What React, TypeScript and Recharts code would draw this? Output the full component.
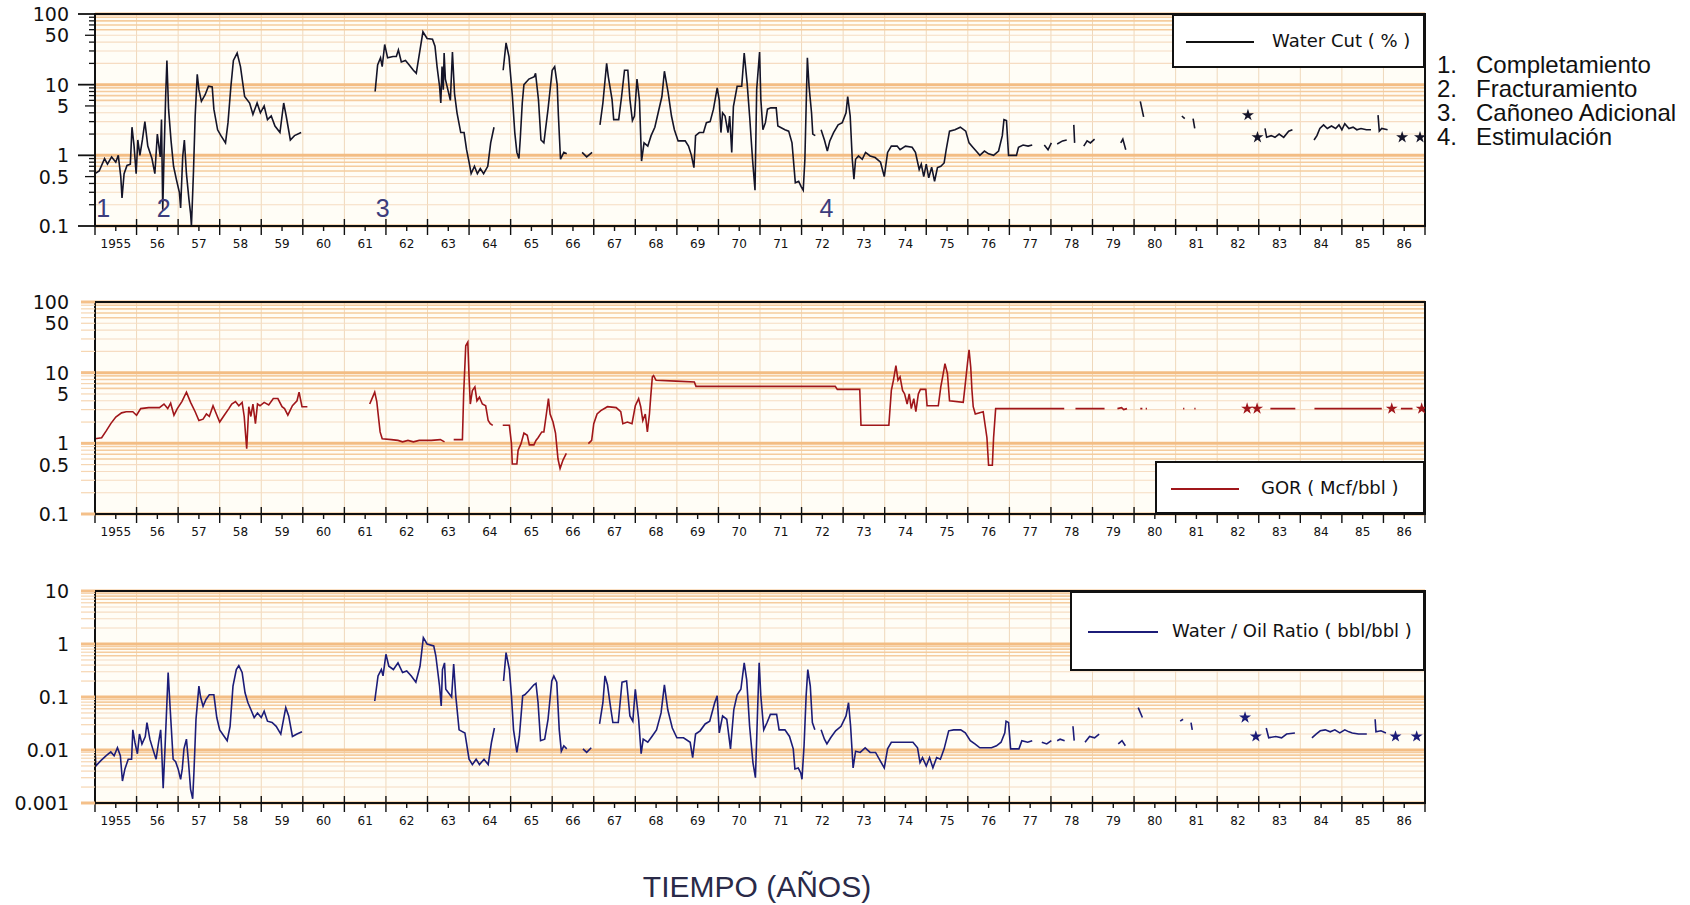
import React from 'react'
import { ComposedChart, Line, Scatter, XAxis, YAxis, ZAxis, CartesianGrid, ReferenceArea, ReferenceDot } from 'recharts'

type Pt = [number, number | null]

// x axis: one label per year, placed mid-year
const yearLabels = ['1955', '56', '57', '58', '59', '60', '61', '62', '63', '64', '65', '66', '67', '68', '69', '70',
  '71', '72', '73', '74', '75', '76', '77', '78', '79', '80', '81', '82', '83', '84', '85', '86']

// Water Cut (%)  [year, value]
const waterCut: Pt[] = [
  [1955.0, 0.55], [1955.1, 0.6], [1955.23, 0.9], [1955.3, 0.75], [1955.4, 0.95], [1955.5, 0.8], [1955.56, 1.0], [1955.62, 0.5],
  [1955.65, 0.25], [1955.7, 0.55], [1955.77, 0.72], [1955.85, 0.75], [1955.89, 2.5], [1955.94, 1.35], [1955.99, 0.55], [1956.03, 1.65],
  [1956.08, 1.0], [1956.14, 1.65], [1956.2, 3.0], [1956.27, 1.35], [1956.37, 0.9], [1956.44, 0.55], [1956.5, 2.0], [1956.57, 0.95],
  [1956.6, 3.2], [1956.63, 0.17], [1956.66, 0.95], [1956.7, 6.8], [1956.73, 22], [1956.77, 4.5], [1956.83, 1.6], [1956.89, 0.7],
  [1956.96, 0.45], [1957.03, 0.3], [1957.06, 0.18], [1957.11, 0.95], [1957.15, 1.65], [1957.2, 0.55], [1957.26, 0.24], [1957.3, 0.15],
  [1957.32, 0.1], [1957.34, 0.2], [1957.37, 0.6], [1957.41, 3.6], [1957.46, 14], [1957.5, 8.5], [1957.56, 5.8], [1957.65, 7.2],
  [1957.73, 9.5], [1957.82, 9.3], [1957.86, 4.5], [1957.95, 2.3], [1958.03, 1.9], [1958.14, 1.5], [1958.2, 2.9], [1958.27, 9.5],
  [1958.33, 22], [1958.42, 28], [1958.5, 18], [1958.6, 6.8], [1958.72, 5.5], [1958.8, 3.8], [1958.9, 5.5], [1958.98, 4.0],
  [1959.07, 5], [1959.15, 3.2], [1959.24, 3.6], [1959.33, 2.6], [1959.45, 2.1], [1959.54, 5.5], [1959.6, 3.6], [1959.7, 1.65],
  [1959.8, 1.9], [1959.96, 2.1], [1960.0, null],
  [1961.74, 8.0], [1961.8, 19], [1961.87, 24], [1961.91, 18], [1961.97, 37], [1962.04, 24], [1962.17, 25], [1962.25, 25],
  [1962.3, 31], [1962.37, 21], [1962.47, 22], [1962.56, 19], [1962.66, 16], [1962.73, 14.5], [1962.82, 31], [1962.89, 56],
  [1962.99, 45], [1963.12, 44], [1963.18, 35], [1963.23, 18], [1963.29, 9.5], [1963.32, 5.5], [1963.35, 18], [1963.38, 8.5],
  [1963.4, 28], [1963.43, 12], [1963.55, 6], [1963.6, 29], [1963.65, 7.5], [1963.71, 4], [1963.8, 2.1], [1963.88, 2.1],
  [1963.94, 1.2], [1964.0, 0.8], [1964.05, 0.55], [1964.13, 0.7], [1964.2, 0.55], [1964.27, 0.65], [1964.35, 0.55], [1964.45, 0.7],
  [1964.52, 1.5], [1964.6, 2.5], [1964.7, null],
  [1964.82, 16], [1964.89, 39], [1964.96, 25], [1965.04, 7.2], [1965.1, 2.1], [1965.15, 1.1], [1965.2, 0.9], [1965.23, 1.65],
  [1965.28, 5.5], [1965.32, 10], [1965.44, 12], [1965.57, 13], [1965.6, 14.5], [1965.67, 6.1], [1965.73, 1.65], [1965.8, 1.5],
  [1965.9, 4.5], [1966.0, 16], [1966.06, 18], [1966.12, 10], [1966.15, 3.6], [1966.2, 0.88], [1966.28, 1.1], [1966.35, 1.05],
  [1966.4, null],
  [1966.72, 1.1], [1966.83, 0.95], [1966.96, 1.1], [1967.0, null],
  [1967.15, 2.7], [1967.22, 5.5], [1967.31, 20], [1967.35, 13], [1967.44, 6.2], [1967.48, 3.2], [1967.6, 3.2], [1967.67, 6.8],
  [1967.74, 16], [1967.82, 16], [1967.87, 6.2], [1967.93, 3.1], [1967.98, 3.6], [1968.04, 12], [1968.1, 6], [1968.15, 0.83],
  [1968.21, 1.5], [1968.3, 1.35], [1968.38, 1.9], [1968.47, 2.5], [1968.55, 4.0], [1968.64, 6.8], [1968.7, 15.5], [1968.79, 7.7],
  [1968.87, 3.6], [1968.94, 2.3], [1969.03, 1.6], [1969.2, 1.6], [1969.28, 1.35], [1969.35, 1.0], [1969.41, 0.67], [1969.45, 1.9],
  [1969.54, 2.1], [1969.64, 2.1], [1969.71, 2.9], [1969.8, 3.0], [1969.88, 4.5], [1969.97, 9], [1970.02, 6], [1970.06, 2.1],
  [1970.1, 4], [1970.16, 3.6], [1970.23, 2.1], [1970.27, 3.6], [1970.32, 1.1], [1970.36, 4.9], [1970.45, 9.5], [1970.56, 9.5],
  [1970.62, 28], [1970.69, 10.5], [1970.75, 3.6], [1970.82, 0.88], [1970.88, 0.32], [1970.92, 8.5], [1970.99, 29], [1971.02, 6.2],
  [1971.07, 2.3], [1971.13, 2.9], [1971.18, 4.5], [1971.26, 4.7], [1971.39, 4.7], [1971.43, 2.6], [1971.6, 2.3], [1971.69, 2.2],
  [1971.77, 1.5], [1971.85, 0.41], [1971.93, 0.43], [1971.99, 0.36], [1972.04, 0.32], [1972.08, 0.88], [1972.12, 8.5], [1972.14, 24],
  [1972.18, 9.5], [1972.24, 4], [1972.27, 2.0], [1972.33, 1.9], [1972.4, null],
  [1972.47, 2.3], [1972.55, 1.65], [1972.62, 1.15], [1972.68, 1.6], [1972.77, 2.1], [1972.88, 2.7], [1972.98, 2.9], [1973.07, 4],
  [1973.11, 6.8], [1973.17, 3.6], [1973.22, 0.88], [1973.26, 0.46], [1973.3, 0.88], [1973.37, 0.98], [1973.46, 0.88], [1973.54, 1.1],
  [1973.65, 0.98], [1973.77, 0.93], [1973.9, 0.8], [1973.99, 0.5], [1974.07, 1.1], [1974.16, 1.35], [1974.3, 1.35], [1974.37, 1.2],
  [1974.5, 1.35], [1974.66, 1.3], [1974.74, 1.1], [1974.83, 0.63], [1974.88, 0.75], [1974.94, 0.5], [1975.0, 0.75], [1975.06, 0.48],
  [1975.13, 0.68], [1975.2, 0.43], [1975.27, 0.67], [1975.35, 0.7], [1975.43, 0.78], [1975.48, 1.2], [1975.56, 2.2], [1975.69, 2.3],
  [1975.82, 2.5], [1975.95, 2.2], [1976.03, 1.5], [1976.12, 1.3], [1976.2, 1.15], [1976.29, 1.0], [1976.4, 1.15], [1976.5, 1.05],
  [1976.62, 1.0], [1976.74, 1.15], [1976.83, 1.9], [1976.87, 3.2], [1976.93, 3.1], [1976.98, 1.0], [1977.17, 1.0], [1977.22, 1.3],
  [1977.33, 1.4], [1977.45, 1.35], [1977.55, 1.4], [1977.62, null],
  [1977.84, 1.4], [1977.93, 1.2], [1978.01, 1.5], [1978.06, null],
  [1978.15, 1.45], [1978.28, 1.6], [1978.38, 1.65], [1978.45, null],
  [1978.55, 2.7], [1978.57, 1.5], [1978.62, null],
  [1978.79, 1.35], [1978.87, 1.6], [1978.95, 1.5], [1979.05, 1.7], [1979.12, null],
  [1979.68, 1.5], [1979.73, 1.7], [1979.8, 1.2], [1979.85, null],
  [1980.15, 5.8], [1980.23, 3.5], [1980.28, null],
  [1981.15, 3.6], [1981.22, 3.3], [1981.27, null],
  [1981.42, 3.3], [1981.46, 2.4], [1981.5, null],
  [1983.15, 2.4], [1983.19, 1.8], [1983.3, 1.9], [1983.39, 1.8], [1983.49, 2.0], [1983.6, 1.8], [1983.72, 2.2], [1983.81, 2.3],
  [1983.88, null],
  [1984.33, 1.65], [1984.4, 1.9], [1984.47, 2.4], [1984.56, 2.7], [1984.65, 2.4], [1984.75, 2.6], [1984.85, 2.4], [1984.93, 2.7],
  [1985.0, 2.3], [1985.07, 2.8], [1985.17, 2.4], [1985.27, 2.5], [1985.36, 2.3], [1985.46, 2.4], [1985.59, 2.3], [1985.7, 2.3],
  [1985.75, null],
  [1985.87, 3.7], [1985.9, 2.2], [1985.96, 2.4], [1986.1, 2.3], [1986.15, null],
]
const waterCutStars: Pt[] = [[1982.74, 3.7], [1982.97, 1.8], [1986.45, 1.8], [1986.88, 1.8]]

// GOR (Mcf/bbl)
const gor: Pt[] = [
  [1955.0, 1.16], [1955.16, 1.2], [1955.27, 1.5], [1955.38, 1.9], [1955.5, 2.35], [1955.64, 2.7], [1955.75, 2.8], [1955.91, 2.8],
  [1956.0, 2.5], [1956.1, 3.1], [1956.29, 3.2], [1956.55, 3.2], [1956.66, 3.6], [1956.75, 3.1], [1956.82, 3.7], [1956.9, 2.5],
  [1956.98, 3.1], [1957.09, 3.9], [1957.2, 5.3], [1957.3, 3.8], [1957.41, 2.8], [1957.5, 2.1], [1957.6, 2.2], [1957.68, 2.6],
  [1957.75, 2.4], [1957.84, 3.4], [1957.92, 2.6], [1958.0, 2.0], [1958.11, 2.5], [1958.22, 3.1], [1958.29, 3.6], [1958.38, 3.9],
  [1958.46, 3.4], [1958.54, 3.8], [1958.59, 2.4], [1958.62, 1.4], [1958.65, 0.84], [1958.7, 3.3], [1958.75, 2.4], [1958.8, 3.6],
  [1958.86, 1.9], [1958.91, 3.6], [1958.97, 3.4], [1959.07, 3.8], [1959.18, 3.5], [1959.29, 4.3], [1959.4, 4.3], [1959.5, 3.3],
  [1959.56, 3.1], [1959.64, 2.5], [1959.75, 3.4], [1959.86, 4.0], [1959.91, 5.3], [1959.98, 3.3], [1960.11, 3.3], [1960.15, null],
  [1961.61, 3.6], [1961.68, 4.5], [1961.73, 5.3], [1961.78, 3.9], [1961.83, 2.1], [1961.86, 1.45], [1961.91, 1.16], [1962.13, 1.13],
  [1962.29, 1.1], [1962.4, 1.05], [1962.53, 1.1], [1962.66, 1.05], [1962.8, 1.1], [1963.09, 1.1], [1963.31, 1.13], [1963.41, 1.05],
  [1963.5, null],
  [1963.63, 1.13], [1963.84, 1.13], [1963.87, 5.0], [1963.92, 24], [1963.97, 27], [1964.0, 8.7], [1964.03, 3.6], [1964.08, 5.6],
  [1964.14, 6.3], [1964.19, 4.0], [1964.25, 4.5], [1964.32, 3.6], [1964.4, 3.4], [1964.46, 2.1], [1964.51, 1.9], [1964.57, 1.8],
  [1964.65, null],
  [1964.81, 1.8], [1964.97, 1.8], [1965.02, 0.99], [1965.04, 0.51], [1965.15, 0.51], [1965.18, 0.8], [1965.25, 0.99], [1965.32, 1.4],
  [1965.4, 1.3], [1965.45, 0.95], [1965.56, 0.95], [1965.61, 1.1], [1965.66, 1.2], [1965.75, 1.45], [1965.8, 1.45], [1965.86, 2.6],
  [1965.91, 4.3], [1965.95, 2.6], [1966.02, 2.0], [1966.08, 1.4], [1966.14, 0.6], [1966.19, 0.44], [1966.26, 0.58], [1966.34, 0.72],
  [1966.4, null],
  [1966.87, 0.99], [1966.95, 1.1], [1967.0, 1.9], [1967.08, 2.6], [1967.17, 2.9], [1967.33, 3.3], [1967.54, 3.2], [1967.65, 2.8],
  [1967.7, 1.9], [1967.81, 2.0], [1967.92, 1.9], [1968.0, 3.4], [1968.08, 4.3], [1968.13, 3.3], [1968.18, 2.1], [1968.24, 2.6],
  [1968.29, 1.45], [1968.34, 2.6], [1968.37, 4.5], [1968.41, 8.7], [1968.44, 9.1], [1968.5, 7.8], [1968.98, 7.6], [1969.42, 7.4],
  [1969.46, 6.4], [1972.81, 6.4], [1972.86, 5.8], [1973.4, 5.8], [1973.43, 1.8], [1974.1, 1.8], [1974.16, 5.6], [1974.21, 7.8],
  [1974.27, 12.6], [1974.32, 7.8], [1974.37, 8.7], [1974.43, 5.6], [1974.48, 5.0], [1974.54, 3.6], [1974.59, 5.0], [1974.64, 3.1],
  [1974.7, 4.3], [1974.75, 2.8], [1974.81, 5.0], [1974.86, 5.8], [1974.99, 5.8], [1975.02, 3.4], [1975.29, 3.4], [1975.35, 6.3],
  [1975.4, 9.1], [1975.45, 13.4], [1975.51, 9.7], [1975.56, 4.0], [1975.89, 3.8], [1975.94, 7.0], [1976.0, 15], [1976.03, 21],
  [1976.07, 12], [1976.1, 5.6], [1976.13, 3.3], [1976.18, 2.6], [1976.37, 2.8], [1976.46, 1.2], [1976.5, 0.49], [1976.59, 0.49],
  [1976.62, 1.2], [1976.67, 3.1], [1978.32, 3.1], [1978.4, null],
  [1978.59, 3.1], [1979.29, 3.1], [1979.35, null],
  [1979.6, 3.1], [1979.7, 3.2], [1979.75, 3.0], [1979.83, 3.1], [1979.88, null],
  [1980.15, 3.1], [1980.2, 3.1], [1980.24, null],
  [1980.28, 3.1], [1980.31, 3.1], [1980.34, null],
  [1981.18, 3.1], [1981.21, 3.1], [1981.24, null],
  [1981.45, 3.1], [1981.48, 3.1], [1981.52, null],
  [1983.28, 3.1], [1983.88, 3.1], [1983.95, null],
  [1984.34, 3.1], [1985.96, 3.1], [1986.05, null],
  [1986.42, 3.1], [1986.7, 3.1], [1986.75, null],
]
const gorStars: Pt[] = [[1982.72, 3.1], [1982.96, 3.1], [1986.2, 3.1], [1986.92, 3.1]]

// Water / Oil Ratio (bbl/bbl)
const wor: Pt[] = [
  [1955.0, 0.0105], [1955.02, 0.005], [1955.14, 0.0063], [1955.27, 0.0078], [1955.38, 0.0092], [1955.46, 0.0078], [1955.54, 0.011],
  [1955.61, 0.0078], [1955.66, 0.0026], [1955.72, 0.0044], [1955.8, 0.0067], [1955.88, 0.0067], [1955.91, 0.024], [1955.96, 0.014],
  [1956.02, 0.0085], [1956.07, 0.02], [1956.13, 0.013], [1956.21, 0.018], [1956.25, 0.033], [1956.32, 0.016], [1956.39, 0.0105],
  [1956.47, 0.0067], [1956.53, 0.014], [1956.58, 0.024], [1956.61, 0.0078], [1956.64, 0.0019], [1956.68, 0.009], [1956.73, 0.078],
  [1956.76, 0.29], [1956.81, 0.058], [1956.88, 0.0067], [1956.94, 0.006], [1957.0, 0.0044], [1957.06, 0.0028], [1957.1, 0.0044],
  [1957.14, 0.0105], [1957.2, 0.016], [1957.25, 0.0058], [1957.3, 0.0018], [1957.35, 0.0012], [1957.38, 0.0037], [1957.43, 0.038],
  [1957.5, 0.16], [1957.54, 0.1], [1957.6, 0.067], [1957.67, 0.09], [1957.75, 0.11], [1957.86, 0.11], [1957.93, 0.041], [1958.0, 0.024],
  [1958.11, 0.018], [1958.18, 0.015], [1958.25, 0.028], [1958.32, 0.16], [1958.4, 0.33], [1958.46, 0.39], [1958.54, 0.29],
  [1958.61, 0.12], [1958.68, 0.078], [1958.75, 0.058], [1958.83, 0.041], [1958.91, 0.05], [1959.0, 0.041], [1959.07, 0.054],
  [1959.15, 0.035], [1959.26, 0.033], [1959.36, 0.028], [1959.47, 0.02], [1959.59, 0.063], [1959.66, 0.044], [1959.75, 0.018],
  [1959.86, 0.02], [1959.98, 0.022], [1960.05, null],
  [1961.73, 0.084], [1961.81, 0.25], [1961.89, 0.33], [1961.93, 0.25], [1962.0, 0.64], [1962.07, 0.38], [1962.18, 0.33], [1962.29, 0.44],
  [1962.4, 0.29], [1962.5, 0.31], [1962.61, 0.25], [1962.72, 0.19], [1962.82, 0.38], [1962.9, 1.32], [1962.99, 1.0], [1963.15, 0.92],
  [1963.2, 0.6], [1963.29, 0.16], [1963.33, 0.068], [1963.36, 0.33], [1963.41, 0.44], [1963.44, 0.14], [1963.58, 0.1], [1963.63, 0.42],
  [1963.68, 0.105], [1963.76, 0.024], [1963.9, 0.021], [1964.0, 0.0067], [1964.08, 0.0053], [1964.17, 0.0067], [1964.25, 0.0053],
  [1964.36, 0.0067], [1964.46, 0.0053], [1964.54, 0.014], [1964.61, 0.026], [1964.7, null],
  [1964.83, 0.2], [1964.89, 0.69], [1964.97, 0.33], [1965.02, 0.105], [1965.07, 0.024], [1965.15, 0.009], [1965.21, 0.018],
  [1965.29, 0.105], [1965.34, 0.11], [1965.43, 0.13], [1965.56, 0.17], [1965.61, 0.18], [1965.66, 0.078], [1965.72, 0.015],
  [1965.82, 0.016], [1965.9, 0.038], [1965.99, 0.2], [1966.04, 0.25], [1966.11, 0.19], [1966.17, 0.024], [1966.22, 0.0095],
  [1966.28, 0.012], [1966.35, 0.0105], [1966.4, null],
  [1966.74, 0.0105], [1966.83, 0.009], [1966.94, 0.011], [1967.0, null],
  [1967.14, 0.031], [1967.22, 0.078], [1967.27, 0.25], [1967.33, 0.17], [1967.4, 0.068], [1967.46, 0.033], [1967.59, 0.033],
  [1967.68, 0.19], [1967.79, 0.2], [1967.87, 0.044], [1967.94, 0.035], [1968.0, 0.14], [1968.08, 0.038], [1968.14, 0.0085],
  [1968.19, 0.016], [1968.3, 0.014], [1968.4, 0.018], [1968.51, 0.024], [1968.62, 0.05], [1968.7, 0.17], [1968.78, 0.058],
  [1968.89, 0.026], [1969.0, 0.017], [1969.16, 0.017], [1969.32, 0.014], [1969.38, 0.0072], [1969.45, 0.02], [1969.56, 0.023],
  [1969.68, 0.031], [1969.79, 0.035], [1969.91, 0.078], [1969.97, 0.105], [1970.02, 0.021], [1970.1, 0.044], [1970.2, 0.038],
  [1970.29, 0.0105], [1970.37, 0.058], [1970.45, 0.11], [1970.54, 0.14], [1970.62, 0.44], [1970.68, 0.21], [1970.75, 0.028],
  [1970.83, 0.0058], [1970.89, 0.003], [1970.94, 0.05], [1970.98, 0.44], [1971.02, 0.105], [1971.09, 0.024], [1971.17, 0.033],
  [1971.25, 0.047], [1971.4, 0.047], [1971.46, 0.024], [1971.6, 0.024], [1971.71, 0.018], [1971.8, 0.0105], [1971.84, 0.0044],
  [1971.92, 0.0046], [1971.98, 0.0037], [1972.01, 0.0028], [1972.06, 0.012], [1972.11, 0.105], [1972.15, 0.33], [1972.21, 0.16],
  [1972.26, 0.033], [1972.32, 0.024], [1972.4, null],
  [1972.47, 0.024], [1972.55, 0.016], [1972.61, 0.013], [1972.7, 0.017], [1972.82, 0.023], [1972.95, 0.028], [1973.07, 0.044],
  [1973.13, 0.078], [1973.18, 0.028], [1973.24, 0.0046], [1973.3, 0.0095], [1973.41, 0.009], [1973.53, 0.011], [1973.65, 0.009],
  [1973.78, 0.009], [1973.88, 0.0065], [1973.99, 0.0046], [1974.07, 0.0105], [1974.16, 0.014], [1974.33, 0.014], [1974.5, 0.014],
  [1974.68, 0.014], [1974.79, 0.011], [1974.85, 0.0058], [1974.91, 0.0072], [1975.0, 0.005], [1975.08, 0.0072], [1975.16, 0.0046],
  [1975.25, 0.0072], [1975.34, 0.0067], [1975.43, 0.0105], [1975.54, 0.023], [1975.66, 0.024], [1975.83, 0.024], [1975.94, 0.021],
  [1976.06, 0.015], [1976.17, 0.013], [1976.29, 0.011], [1976.42, 0.011], [1976.57, 0.011], [1976.69, 0.012], [1976.8, 0.014],
  [1976.89, 0.021], [1976.92, 0.035], [1976.98, 0.033], [1977.03, 0.0105], [1977.23, 0.0105], [1977.3, 0.015], [1977.44, 0.014],
  [1977.55, 0.015], [1977.62, null],
  [1977.78, 0.014], [1977.9, 0.013], [1978.01, 0.015], [1978.06, null],
  [1978.15, 0.015], [1978.22, 0.016], [1978.33, 0.015], [1978.4, null],
  [1978.53, 0.028], [1978.56, 0.015], [1978.62, null],
  [1978.82, 0.014], [1978.93, 0.018], [1979.05, 0.017], [1979.16, 0.02], [1979.22, null],
  [1979.62, 0.013], [1979.71, 0.015], [1979.79, 0.012], [1979.85, null],
  [1980.1, 0.063], [1980.2, 0.041], [1980.26, null],
  [1981.11, 0.035], [1981.18, 0.038], [1981.24, null],
  [1981.37, 0.033], [1981.4, 0.024], [1981.45, null],
  [1983.18, 0.026], [1983.24, 0.017], [1983.41, 0.018], [1983.55, 0.017], [1983.67, 0.02], [1983.87, 0.021], [1983.93, null],
  [1984.28, 0.017], [1984.38, 0.02], [1984.48, 0.023], [1984.6, 0.024], [1984.72, 0.022], [1984.83, 0.024], [1984.95, 0.021],
  [1985.07, 0.024], [1985.17, 0.022], [1985.25, 0.021], [1985.4, 0.02], [1985.6, 0.02], [1985.67, null],
  [1985.8, 0.038], [1985.82, 0.022], [1985.94, 0.023], [1986.06, 0.021], [1986.12, null],
]
const worStars: Pt[] = [[1982.67, 0.041], [1982.93, 0.018], [1986.29, 0.018], [1986.8, 0.018]]

// well events marked on the water cut panel
const events = [
  { t: 1955.2, v: 0.18, text: '1' },
  { t: 1956.65, v: 0.18, text: '2' },
  { t: 1961.92, v: 0.18, text: '3' },
  { t: 1972.6, v: 0.18, text: '4' },
]
const eventNotes = ['Completamiento', 'Fracturamiento', 'Cañoneo Adicional', 'Estimulación']

const yearStarts = yearLabels.map((_, i) => 1955 + i).concat([1987])
const xTicks = yearStarts.concat(yearLabels.map((_, i) => 1955.5 + i)).sort((a, b) => a - b)
const mantissas = [1, 2, 3, 4, 5, 6, 7, 8, 9]

const toPoints = (arr: Pt[]) => arr.map(([t, v]) => ({ t, v }))

const TICK_FONT = 'DejaVu Sans, Verdana, sans-serif'

const XTick = (props: any) => {
  const { x, y, payload } = props
  const v = payload.value
  if (Math.abs(v - Math.round(v)) < 0.01) {
    return <line x1={x} x2={x} y1={y - 7} y2={y + 9} stroke="#111" strokeWidth={1.4} />
  }
  const label = yearLabels[Math.floor(v) - 1955]
  return (
    <g>
      <line x1={x} x2={x} y1={y} y2={y + 5} stroke="#111" strokeWidth={1.4} />
      <text x={x} y={y + 18} textAnchor="middle" dominantBaseline="central" fontSize={12} fill="#111" fontFamily={TICK_FONT}>{label}</text>
    </g>
  )
}

const makeYTick = (labels: number[], orange: boolean) => (props: any) => {
  const { x, y, payload } = props
  const v = payload.value
  const mant = Math.round(v / Math.pow(10, Math.floor(Math.log10(v) + 1e-9)))
  const lab = labels.find((l) => Math.abs(v - l) / l < 1e-6)
  const len = orange ? 14 : mant === 1 ? 17 : mant === 5 ? 10 : 6
  return (
    <g>
      <line x1={x - len} x2={x} y1={y} y2={y}
        stroke={orange ? (mant === 1 ? '#f4c08a' : '#f6d6b2') : '#111'}
        strokeWidth={orange ? (mant === 1 ? 3 : 1.2) : mant === 1 ? 1.8 : 1.3} />
      {lab !== undefined && (
        <text x={x - 26} y={y} textAnchor="end" dominantBaseline="central" fontSize={19} fill="#111" fontFamily={TICK_FONT}>
          {String(lab)}
        </text>
      )}
    </g>
  )
}

type PanelProps = {
  top: number
  series: Pt[]
  stars: Pt[]
  color: string
  domain: [number, number]
  labels: number[]
  decades: number[]
  orangeTicks: boolean
  notes?: { t: number; v: number; text: string }[]
}

const Panel = ({ top, series, stars, color, domain, labels, decades, orangeTicks, notes }: PanelProps) => {
  const allTicks = decades.flatMap((d) => mantissas.map((m) => +(m * d).toPrecision(6))).concat([domain[1]])
  const decadeLines = decades.concat([domain[1]])
  const upperLines = decades.flatMap((d) => [6, 7, 8, 9].map((m) => +(m * d).toPrecision(6)))
  const lowerLines = decades.flatMap((d) => [2, 3, 4, 5].map((m) => +(m * d).toPrecision(6)))
  return (
    <div style={{ position: 'absolute', left: 0, top: top - 14 }}>
      <ComposedChart width={1690} height={260} margin={{ top: 14, right: 265, bottom: 0, left: 0 }}>
        <CartesianGrid fill="#fffdf6" fillOpacity={1} horizontal={false} vertical={false} />
        <CartesianGrid horizontal={false} verticalValues={yearStarts} stroke="#efd8bb" strokeWidth={1} />
        <CartesianGrid vertical={false} horizontalValues={lowerLines} stroke="#f6dcc2" strokeWidth={1.1} />
        <CartesianGrid vertical={false} horizontalValues={upperLines} stroke="#f5cc9e" strokeWidth={1.6} />
        <CartesianGrid vertical={false} horizontalValues={decadeLines} stroke="#f3bd84" strokeWidth={3} />
        <XAxis type="number" dataKey="t" domain={[1955, 1987]} ticks={xTicks} interval={0} allowDataOverflow
          height={34} tickSize={0} tickMargin={0} tickLine={false} tick={<XTick />}
          axisLine={{ stroke: '#111', strokeWidth: 2 }} />
        <YAxis type="number" scale="log" domain={domain} ticks={allTicks} interval={0} allowDataOverflow
          width={95} tickSize={0} tickMargin={0} tickLine={false} tick={makeYTick(labels, orangeTicks)}
          axisLine={{ stroke: '#111', strokeWidth: 2 }} />
        <ZAxis range={[45, 45]} />
        <Line data={toPoints(series)} dataKey="v" type="linear" stroke={color} strokeWidth={1.6}
          dot={false} activeDot={false} connectNulls={false} isAnimationActive={false} />
        <Scatter data={toPoints(stars)} dataKey="v" fill={color} shape="star" isAnimationActive={false} />
        <ReferenceArea x1={1955} x2={1987} y1={domain[0]} y2={domain[1]} fill="none" stroke="#111" strokeWidth={2} />
        {notes?.map((n) => (
          <ReferenceDot key={n.text} x={n.t} y={n.v} r={1} fill="none" stroke="none"
            label={{ value: n.text, position: 'center', fontSize: 25, fill: '#3c3c7c', fontFamily: 'Liberation Sans, Arial, sans-serif' }} />
        ))}
      </ComposedChart>
    </div>
  )
}

const legendText: React.CSSProperties = {
  position: 'absolute', fontFamily: TICK_FONT, fontSize: 18, color: '#111', whiteSpace: 'nowrap', lineHeight: '22px',
}

const LegendBox = ({ left, top, width, height, color, lineFrom, lineTo, textLeft, text }: any) => (
  <div style={{ position: 'absolute', left, top, width, height, background: '#fff', border: '2px solid #111', boxSizing: 'border-box' }}>
    <div style={{ position: 'absolute', left: lineFrom, width: lineTo - lineFrom, top: height / 2 - 2, borderTop: `2px solid ${color}` }} />
    <div style={{ ...legendText, left: textLeft, top: height / 2 - 13 }}>{text}</div>
  </div>
)

export default function App() {
  return (
    <div style={{ position: 'absolute', left: 0, top: 0, width: 1690, height: 905, background: '#fff', overflow: 'hidden' }}>
      <Panel top={14} series={waterCut} stars={waterCutStars} color="#141428" domain={[0.1, 100]}
        labels={[0.1, 0.5, 1, 5, 10, 50, 100]} decades={[0.1, 1, 10]} orangeTicks={false} notes={events} />
      <Panel top={302} series={gor} stars={gorStars} color="#a0161a" domain={[0.1, 100]}
        labels={[0.1, 0.5, 1, 5, 10, 50, 100]} decades={[0.1, 1, 10]} orangeTicks />
      <Panel top={591} series={wor} stars={worStars} color="#1c1c78" domain={[0.001, 10]}
        labels={[0.001, 0.01, 0.1, 1, 10]} decades={[0.001, 0.01, 0.1, 1]} orangeTicks />

      <LegendBox left={1172} top={14} width={253} height={54} color="#111" lineFrom={12} lineTo={80} textLeft={98} text="Water Cut ( % )" />
      <LegendBox left={1155} top={461} width={270} height={53} color="#a0161a" lineFrom={14} lineTo={82} textLeft={104} text="GOR ( Mcf/bbl )" />
      <LegendBox left={1070} top={591} width={355} height={80} color="#1c1c78" lineFrom={16} lineTo={86} textLeft={100} text="Water / Oil Ratio ( bbl/bbl )" />

      <div style={{ position: 'absolute', left: 1437, top: 53, fontFamily: 'Liberation Sans, Arial, sans-serif', fontSize: 24, lineHeight: '24px', color: '#111' }}>
        {eventNotes.map((note, i) => (
          <div key={note} style={{ position: 'relative', height: 24, whiteSpace: 'nowrap' }}>
            <span>{i + 1}.</span>
            <span style={{ position: 'absolute', left: 39 }}>{note}</span>
          </div>
        ))}
      </div>

      <div style={{ position: 'absolute', left: 557, width: 400, top: 869, textAlign: 'center', fontFamily: 'Liberation Sans, Arial, sans-serif', fontSize: 30, lineHeight: '36px', color: '#2a2a48' }}>
        TIEMPO (AÑOS)
      </div>
    </div>
  )
}
